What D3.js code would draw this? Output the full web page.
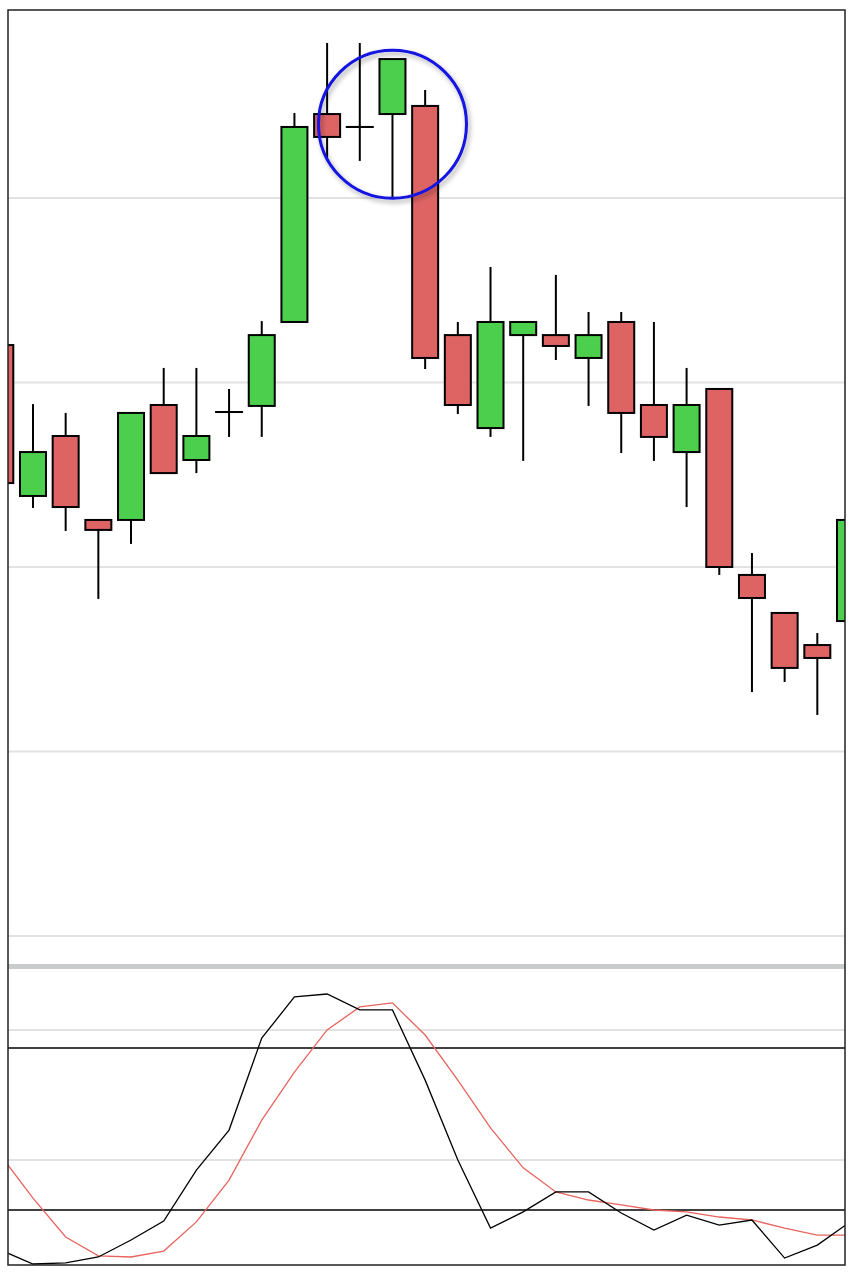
<!DOCTYPE html>
<html><head><meta charset="utf-8">
<script src="https://cdn.jsdelivr.net/npm/d3@7"></script>
<style>body{margin:0;background:#fff}</style>
</head><body>
<svg width="864" height="1283"></svg>
<script>
// candle data (price units, grid every 10)
var opens  = [32.03,23.85,27.10,22.55,22.55,28.78,25.80,28.40,28.73,33.28,44.55,43.85,44.55,44.99,32.57,27.53,32.57,32.57,31.33,33.28,28.78,26.23,29.65,19.57,17.51,15.77,17.07];
var closes = [24.55,26.23,23.25,22.01,28.35,25.09,27.10,28.40,32.57,43.85,43.31,43.85,47.53,31.33,28.78,33.28,33.28,31.98,32.57,28.35,27.05,28.78,20.00,18.32,14.53,15.07,22.55];
var highs  = [32.03,28.83,28.35,22.55,28.35,30.79,30.79,29.65,33.33,44.61,48.40,48.40,47.53,45.85,33.28,36.26,33.28,35.83,33.82,33.82,33.28,30.79,29.65,20.76,17.51,16.42,22.55];
var lows   = [24.55,23.20,21.95,18.27,21.25,25.09,25.09,27.05,27.05,33.28,42.06,42.01,40.00,30.73,28.29,27.05,25.75,31.22,28.73,26.18,25.75,23.25,19.57,13.22,13.77,11.98,17.07];
var priceGrid = [0,10,20,30,40];
// stochastic oscillator
var stochK = [5.2,0,0.4,2.6,8.9,15.9,34.8,49.6,83.7,98.9,100,94.1,94.1,68.1,38.5,13.3,19.3,26.7,26.7,18.9,12.6,18.1,14.4,16.3,2.2,7.0,15.6];
var stochD = [40.4,24.4,10.0,3.0,2.6,4.8,15.6,31.1,53.3,71.1,86.7,95.2,96.7,84.8,68.1,50.4,35.6,26.7,23.7,21.9,20.0,19.3,17.4,16.3,13.3,10.7,10.7];
var stochGrid = [86.7,38.5];
var stochLevels = [20,80];

var svg = d3.select('svg');
var L = 8, R = 845, T = 10, B = 1265;
var x = d3.scaleLinear().domain([0,26]).range([0.3,850]);
var y = d3.scaleLinear().domain([0,10]).range([936,751.5]);
var ys = d3.scaleLinear().domain([0,100]).range([1264,994]);

svg.append('clipPath').attr('id','clip').append('rect')
  .attr('x',L).attr('y',T).attr('width',R-L).attr('height',B-T);
var g = svg.append('g').attr('clip-path','url(#clip)');

// grid lines
g.selectAll('.pg').data(priceGrid).enter().append('line')
  .attr('x1',L).attr('x2',R).attr('y1',d=>y(d)).attr('y2',d=>y(d))
  .style('stroke','#e2e2e2').style('stroke-width',2);
g.append('rect').attr('x',L).attr('y',964).attr('width',R-L).attr('height',5).style('fill','#c8cccc');
g.selectAll('.sg').data(stochGrid).enter().append('line')
  .attr('x1',L).attr('x2',R).attr('y1',d=>ys(d)).attr('y2',d=>ys(d))
  .style('stroke','#e2e2e2').style('stroke-width',2);
g.selectAll('.sl').data(stochLevels).enter().append('line')
  .attr('x1',L).attr('x2',R).attr('y1',d=>ys(d)).attr('y2',d=>ys(d))
  .style('stroke','#000').style('stroke-width',1.6);

// candles
var idx = d3.range(opens.length), bw = 26;
g.selectAll('.wick').data(idx).enter().append('line')
  .attr('x1',i=>x(i)).attr('x2',i=>x(i)).attr('y1',i=>y(highs[i])).attr('y2',i=>y(lows[i]))
  .style('stroke','#000').style('stroke-width',2);
g.selectAll('.body').data(idx).enter().append('rect')
  .attr('x',i=>x(i)-bw/2).attr('width',bw)
  .attr('y',i=>y(Math.max(opens[i],closes[i])))
  .attr('height',i=>Math.max(Math.abs(y(opens[i])-y(closes[i])),0.01))
  .style('fill',i=>closes[i]>=opens[i]?'#4ccf4c':'#de6464')
  .style('stroke','#000').style('stroke-width',2);
// doji crosses
g.selectAll('.doji').data(idx.filter(i=>opens[i]===closes[i])).enter().append('line')
  .attr('x1',i=>x(i)-bw/2).attr('x2',i=>x(i)+bw/2).attr('y1',i=>y(opens[i])).attr('y2',i=>y(opens[i]))
  .style('stroke','#000').style('stroke-width',2);

// stochastic lines
var line = arr => d3.line().x((d,i)=>x(i)).y(d=>ys(d))(arr);
g.append('path').attr('d',line(stochD)).style('fill','none').style('stroke','#e8645f').style('stroke-width',1.3);
g.append('path').attr('d',line(stochK)).style('fill','none').style('stroke','#000').style('stroke-width',1.3);

// highlight circle
var f = svg.append('defs').append('filter').attr('id','sh').attr('x','-20%').attr('y','-20%').attr('width','140%').attr('height','140%');
f.append('feDropShadow').attr('dx',2).attr('dy',3).attr('stdDeviation',2.5).attr('flood-color','#000').attr('flood-opacity',0.35);
svg.append('circle').attr('cx',x(12)).attr('cy',y(44)).attr('r',74)
  .style('fill','none').style('stroke','#1212e0').style('stroke-width',3).attr('filter','url(#sh)');

// frame
svg.append('rect').attr('x',L).attr('y',T).attr('width',R-L).attr('height',B-T)
  .style('fill','none').style('stroke','#222').style('stroke-width',1.5);
</script>
</body></html>
